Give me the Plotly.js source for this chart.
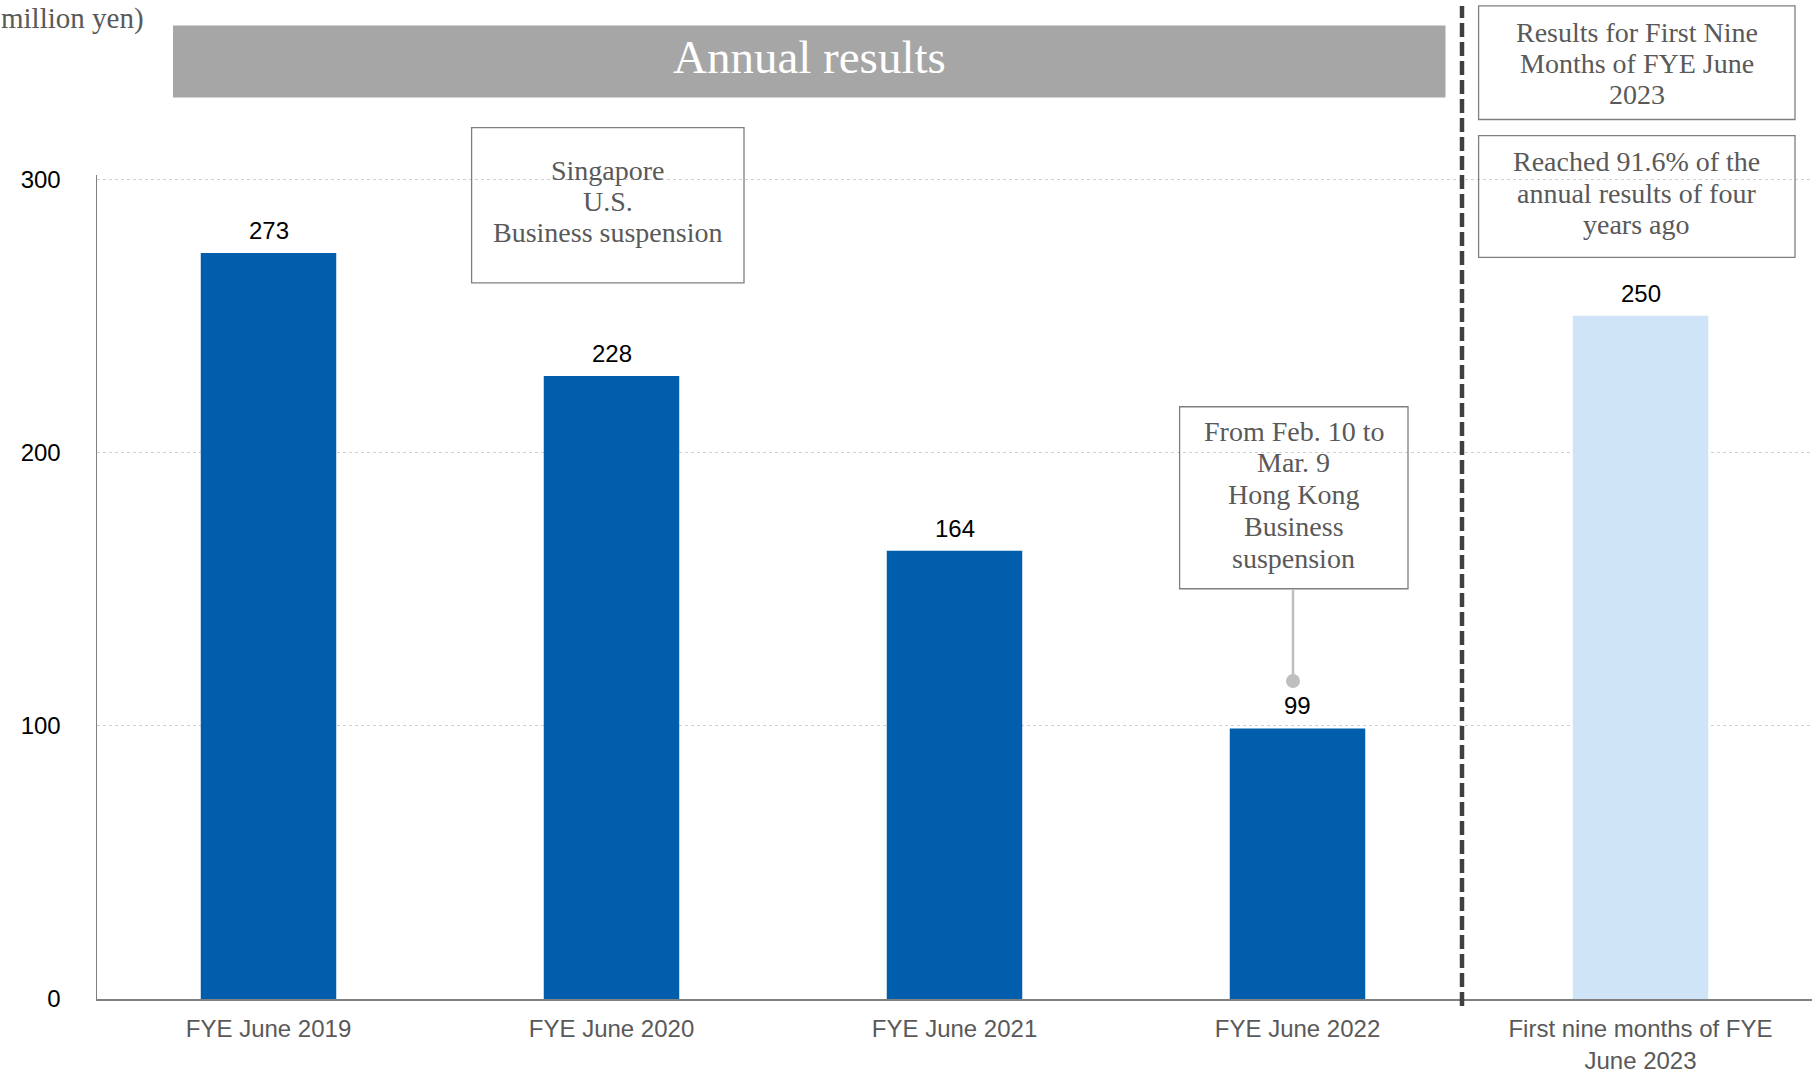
<!DOCTYPE html>
<html>
<head>
<meta charset="utf-8">
<script src="https://cdn.plot.ly/plotly-3.0.1.min.js"></script>
<style>html,body{margin:0;padding:0;background:#fff;}#chart{width:1817px;height:1074px;}</style>
</head>
<body>
<div id="chart"></div>
<script>
// ---- data ----
const categories = ["FYE June 2019", "FYE June 2020", "FYE June 2021", "FYE June 2022", "First nine months of FYE<br>June 2023"];
const values = [273, 228, 164, 99, 250];
const barColors = ["#005EAD", "#005EAD", "#005EAD", "#005EAD", "#CFE4F7"];
const yTicks = [0, 100, 200, 300];
const unitLabel = "million yen)";
const bannerText = "Annual results";
const note1 = ["Singapore", "U.S.", "Business suspension"];
const note2 = ["From Feb. 10 to", "Mar. 9", "Hong Kong", "Business", "suspension"];
const note3 = ["Results for First Nine", "Months of FYE June", "2023"];
const note4 = ["Reached 91.6% of the", "annual results of four", "years ago"];

// ---- layout helpers (pixel -> paper) ----
const L = 97, R = 1812, B = 999;
const YMAX = 301.5;
const PXU = 820 / 300;
const T = B - YMAX * PXU;
const px = x => (x - L) / (R - L);
const py = y => (B - y) / (B - T);

const serif = "Liberation Serif, Times New Roman, serif";
const sans = "Liberation Sans, Arial, sans-serif";
const grayText = "#595959";

const trace = {
  type: "bar",
  x: categories,
  y: values,
  marker: {color: barColors, line: {width: 0}},
  width: 0.395,
  hoverinfo: "skip",
  cliponaxis: false
};

function box(x0, y0, x1, y1) {
  return {type: "rect", xref: "paper", yref: "paper", x0: px(x0), x1: px(x1), y0: py(y1), y1: py(y0),
    line: {color: "#7f7f7f", width: 1.3}, fillcolor: "rgba(255,255,255,0)", layer: "above"};
}
function boxLines(lines, cx, ys, size) {
  return lines.map((t, i) => ({xref: "paper", yref: "paper", x: px(cx), y: py(ys[i]), xanchor: "center", yanchor: "middle",
    text: t, showarrow: false, align: "center", font: {family: serif, size: size, color: grayText}}));
}

const shapes = [
  // banner
  {type: "rect", xref: "paper", yref: "paper", x0: px(173), x1: px(1445.5), y0: py(97.5), y1: py(25.5),
   fillcolor: "#A6A6A6", line: {width: 0}, layer: "below"},
  box(471.6, 127.5, 744, 282.7),
  box(1179.6, 406.7, 1408, 588.7),
  box(1478.6, 5.8, 1795, 119.4),
  box(1478.6, 135.6, 1795, 257.3),
  // connector
  {type: "line", xref: "paper", yref: "paper", x0: px(1293), x1: px(1293), y0: py(589), y1: py(681),
   line: {color: "#BFBFBF", width: 2.5}},
  {type: "circle", xref: "paper", yref: "paper", x0: px(1286), x1: px(1300), y0: py(688), y1: py(674),
   fillcolor: "#BFBFBF", line: {width: 0}},
  // separator dashed line
  {type: "line", xref: "paper", yref: "paper", x0: px(1462), x1: px(1462), y0: py(1006), y1: py(6),
   line: {color: "#404040", width: 4.5, dash: "14px,5px"}}
];

let annotations = [
  {xref: "paper", yref: "paper", x: px(809), y: py(57), xanchor: "center", yanchor: "middle",
   text: bannerText, showarrow: false, font: {family: serif, size: 47, color: "#FFFFFF"}},
  {xref: "paper", yref: "paper", x: px(146), y: py(0), xanchor: "right", yanchor: "top",
   text: unitLabel, showarrow: false, font: {family: serif, size: 29, color: grayText}}
];
annotations = annotations.concat(
  boxLines(note1, 607.8, [170.3, 201.6, 232.9], 28),
  boxLines(note2, 1293.8, [431.1, 462.4, 494.8, 526.1, 558.5], 28),
  boxLines(note3, 1636.8, [32.4, 63.7, 94.5], 28),
  boxLines(note4, 1636.8, [161.1, 193.5, 224.8], 28)
);
values.forEach((v, i) => {
  annotations.push({xref: "x", yref: "y", x: categories[i], y: v, text: String(v), showarrow: false,
    xanchor: "center", yanchor: "bottom", yshift: 7, font: {family: sans, size: 24, color: "#000000"}});
});

const layout = {
  width: 1817, height: 1074,
  margin: {l: L, r: 1817 - R, t: T, b: 1074 - B, pad: 0},
  paper_bgcolor: "#FFFFFF", plot_bgcolor: "#FFFFFF",
  showlegend: false,
  bargap: 0.605,
  xaxis: {
    type: "category", categoryorder: "array", categoryarray: categories,
    showgrid: false, zeroline: false,
    showline: true, linecolor: "#808080", linewidth: 1.5,
    ticks: "outside", ticklen: 8, tickcolor: "rgba(0,0,0,0)",
    tickfont: {family: sans, size: 24, color: grayText},
    fixedrange: true
  },
  yaxis: {
    range: [0, YMAX], tickvals: yTicks, ticktext: yTicks.map(String),
    showgrid: true, gridcolor: "#D0D0D0", griddash: "3px,3px", gridwidth: 1,
    zeroline: false,
    showline: true, linecolor: "#808080", linewidth: 1.5,
    ticks: "outside", ticklen: 30, tickcolor: "rgba(0,0,0,0)",
    tickfont: {family: sans, size: 24, color: "#000000"},
    fixedrange: true
  },
  shapes: shapes,
  annotations: annotations
};

Plotly.newPlot("chart", [trace], layout, {displayModeBar: false, staticPlot: true});
</script>
</body>
</html>
